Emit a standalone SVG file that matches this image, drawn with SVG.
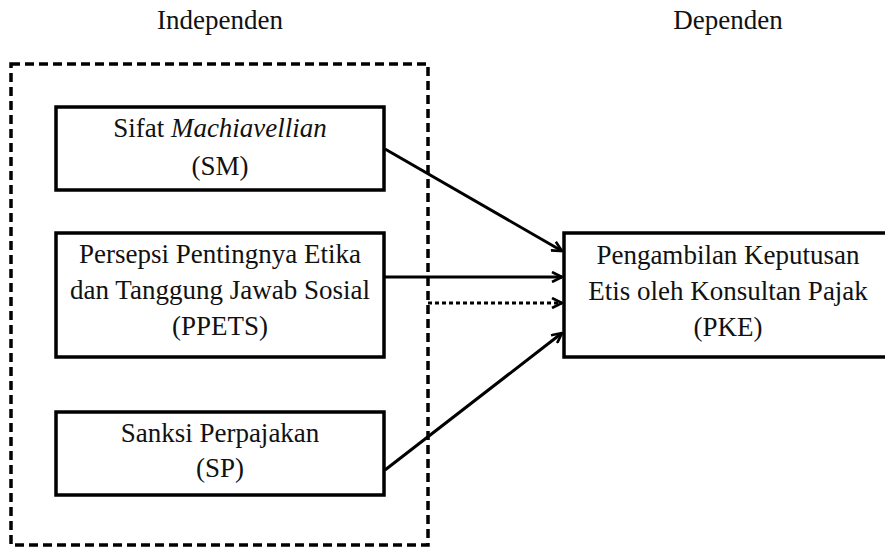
<svg xmlns="http://www.w3.org/2000/svg" width="885" height="548" viewBox="0 0 885 548">
<style>
text{font-family:'Liberation Serif','Times New Roman','DejaVu Serif',serif;font-size:27px;fill:#111;text-anchor:middle}
.box{fill:#fff;stroke:#000;stroke-width:3.5}
.frame{fill:none;stroke:#000;stroke-width:3.5;stroke-dasharray:9 5}
.arr{stroke:#000;stroke-width:3;fill:none;marker-end:url(#ah)}
.dot{stroke-dasharray:4 3}
</style>
<defs>
<marker id="ah" viewBox="0 0 12 12" refX="11" refY="6" markerWidth="12" markerHeight="12" markerUnits="userSpaceOnUse" orient="auto">
<path d="M1,1 L11,6 L1,11" fill="none" stroke="#000" stroke-width="2.6"/>
</marker>
</defs>
<text x="220" y="29">Independen</text>
<text x="728" y="29">Dependen</text>
<rect id="frame" class="frame" x="11" y="64" width="417" height="481"/>
<g id="SM">
<rect class="box" x="56" y="107" width="328" height="83"/>
<text x="220" y="137">Sifat <tspan font-style="italic">Machiavellian</tspan></text>
<text x="220" y="175">(SM)</text>
</g>
<g id="PPETS">
<rect class="box" x="56" y="233" width="328" height="124"/>
<text x="220" y="263">Persepsi Pentingnya Etika</text>
<text x="220" y="299">dan Tanggung Jawab Sosial</text>
<text x="220" y="335">(PPETS)</text>
</g>
<g id="SP">
<rect class="box" x="56" y="412" width="328" height="83"/>
<text x="220" y="442">Sanksi Perpajakan</text>
<text x="220" y="477">(SP)</text>
</g>
<g id="PKE">
<rect class="box" x="564" y="233" width="330" height="124"/>
<text x="728" y="264">Pengambilan Keputusan</text>
<text x="728" y="300">Etis oleh Konsultan Pajak</text>
<text x="728" y="336">(PKE)</text>
</g>
<g id="connectors">
<line class="arr" x1="385" y1="149" x2="562" y2="251"/>
<line class="arr" x1="384" y1="277" x2="562" y2="277"/>
<line class="arr dot" x1="428" y1="303" x2="562" y2="303"/>
<line class="arr" x1="385" y1="470" x2="562" y2="333"/>
</g>
</svg>
